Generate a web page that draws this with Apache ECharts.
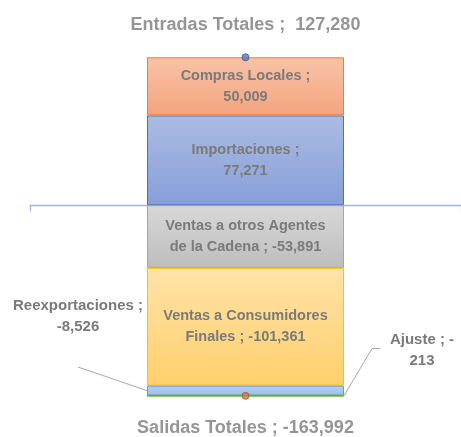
<!DOCTYPE html>
<html>
<head>
<meta charset="utf-8">
<script src="https://cdn.jsdelivr.net/npm/echarts@6/dist/echarts.min.js"></script>
<style>html,body{margin:0;padding:0;background:#fff;}#c{width:461px;height:437px;}</style>
</head>
<body>
<div id="c"></div>
<script>
// ---- data ----
const categories = [''];
const importaciones = [77271];
const comprasLocales = [50009];
const ventasOtros = [-53891];
const ventasConsumidores = [-101361];
const reexportaciones = [-8526];
const ajuste = [-213];
const entradasTotales = [127280];
const salidasTotales = [-163992];

const fmt = v => v.toLocaleString('en-US');
const FONT = 'Liberation Sans';
const TXT = '#7a7a7a';

function grad(top, bottom) {
  return new echarts.graphic.LinearGradient(0, 0, 0, 1, [
    { offset: 0, color: top }, { offset: 1, color: bottom }
  ]);
}
const lbl = (fn, extra) => Object.assign({
  show: true, position: 'inside', color: TXT, fontFamily: FONT, fontWeight: 'bold',
  fontSize: 14.5, lineHeight: 21, formatter: p => fn(p.value)
}, extra || {});

const chart = echarts.init(document.getElementById('c'), null, { renderer: 'canvas' });
chart.setOption({
  animation: false,
  grid: { left: 30, right: 0, top: 30.9, height: 371.9, containLabel: false },
  xAxis: {
    type: 'category', data: categories,
    axisLine: { show: true, onZero: true, lineStyle: { color: '#9db5e6', width: 1.3 } },
    axisTick: { show: true, length: 6, lineStyle: { color: '#9db5e6', width: 1.3 } },
    axisLabel: { show: false }
  },
  yAxis: { type: 'value', min: -170000, max: 150000, show: false, splitLine: { show: false } },
  series: [
    { name: 'Importaciones', type: 'bar', stack: 't', barWidth: '45.7%', data: importaciones,
      itemStyle: { color: grad('#abbbe3', '#879fd8'), borderColor: '#4472c4', borderWidth: 1 },
      label: lbl(v => 'Importaciones ;\n' + fmt(v)) },
    { name: 'Compras Locales', type: 'bar', stack: 't', data: comprasLocales,
      itemStyle: { color: grad('#f8c3a8', '#f4a47e'), borderColor: '#ed7d31', borderWidth: 1 },
      label: lbl(v => 'Compras Locales ;\n' + fmt(v)) },
    { name: 'Ventas a otros Agentes de la Cadena', type: 'bar', stack: 't', data: ventasOtros,
      itemStyle: { color: grad('#d8d8d8', '#bdbdbd'), borderColor: '#a5a5a5', borderWidth: 1 },
      label: lbl(v => 'Ventas a otros Agentes\nde la Cadena ; ' + fmt(v)) },
    { name: 'Ventas a Consumidores Finales', type: 'bar', stack: 't', data: ventasConsumidores,
      itemStyle: { color: grad('#ffe3a8', '#ffd06c'), borderColor: '#ffc000', borderWidth: 1 },
      label: lbl(v => 'Ventas a Consumidores\nFinales ; ' + fmt(v)) },
    { name: 'Reexportaciones', type: 'bar', stack: 't', data: reexportaciones,
      itemStyle: { color: grad('#b4cff0', '#9cc1ea'), borderColor: '#5b9bd5', borderWidth: 1 },
      label: lbl(v => 'Reexportaciones ;\n' + fmt(v), { fontSize: 15 }),
      labelLayout: { x: 78, y: 316, align: 'center', verticalAlign: 'middle' } },
    { name: 'Ajuste', type: 'bar', stack: 't', data: ajuste,
      itemStyle: { color: '#70ad47', borderColor: '#70ad47', borderWidth: 2 },
      label: lbl(v => 'Ajuste ; -\n' + fmt(Math.abs(v)), { fontSize: 15 }),
      labelLayout: { x: 422, y: 350, align: 'center', verticalAlign: 'middle' } },
    { name: 'Entradas Totales', type: 'scatter', data: entradasTotales, symbol: 'circle', symbolSize: 7, z: 10,
      itemStyle: { color: '#5b78b4', borderColor: '#3a5a96', borderWidth: 1 },
      label: { show: true, position: 'top', distance: 19, color: TXT, fontFamily: FONT, fontWeight: 'bold', fontSize: 18,
        formatter: p => 'Entradas Totales ;  ' + fmt(p.value) } },
    { name: 'Salidas Totales', type: 'scatter', data: salidasTotales, symbol: 'circle', symbolSize: 7, z: 10,
      itemStyle: { color: '#c87a52', borderColor: '#a4532c', borderWidth: 1 },
      label: { show: true, position: 'bottom', distance: 19, color: TXT, fontFamily: FONT, fontWeight: 'bold', fontSize: 18,
        formatter: p => 'Salidas Totales ; ' + fmt(p.value) } }
  ]
});

// leader lines for the outside labels, anchored on the bars' computed layout
function barRect(idx) {
  const l = chart.getModel().getSeriesByIndex(idx).getData().getItemLayout(0);
  const y1 = Math.min(l.y, l.y + l.height), y2 = Math.max(l.y, l.y + l.height);
  const x1 = Math.min(l.x, l.x + l.width), x2 = Math.max(l.x, l.x + l.width);
  return { x1, x2, y1, y2 };
}
const rRe = barRect(4), rAj = barRect(5);
const leaderStyle = { stroke: '#a6a6a6', lineWidth: 1, fill: null };
chart.setOption({
  graphic: [
    { type: 'polyline', silent: true, z: 20,
      shape: { points: [[78, 367], [rRe.x1, (rRe.y1 + rRe.y2) / 2]] }, style: leaderStyle },
    { type: 'polyline', silent: true, z: 20,
      shape: { points: [[rAj.x2, rAj.y2], [372, 348.5], [380, 348.5]] }, style: leaderStyle }
  ]
});
</script>
</body>
</html>
